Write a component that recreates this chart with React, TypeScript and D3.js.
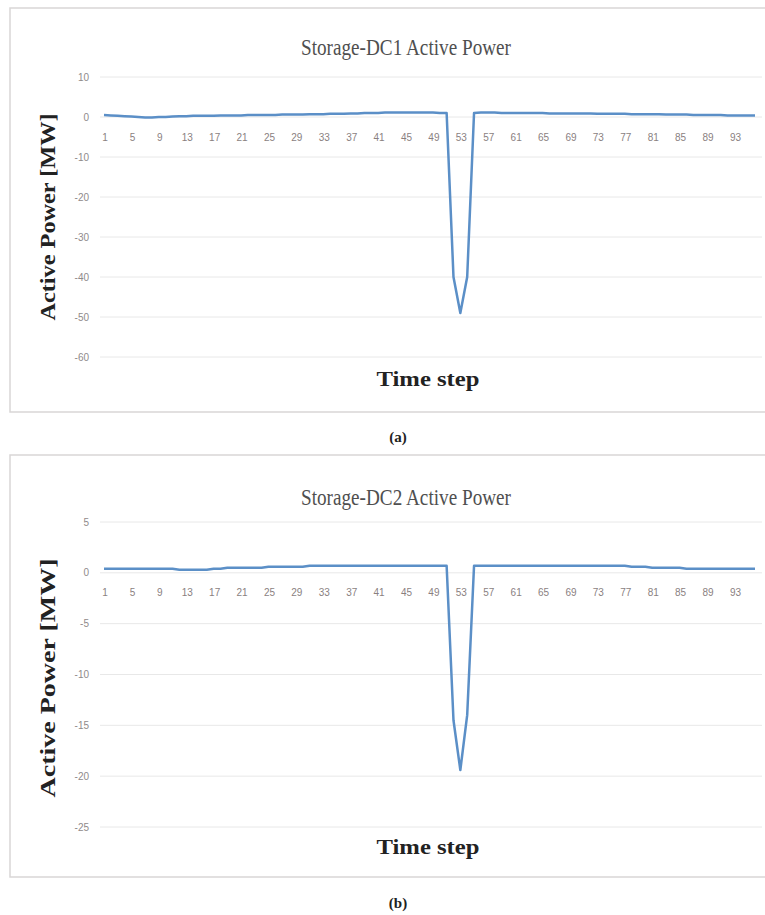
import React from "react";
import * as d3 from "d3";

const steps: number[] = Array.from({ length: 96 }, (_, i) => i + 1);
const labelSteps: number[] = [1, 5, 9, 13, 17, 21, 25, 29, 33, 37, 41, 45, 49, 53, 57, 61, 65, 69, 73, 77, 81, 85, 89, 93];

const dc1Values: number[] = [
  0.5, 0.4, 0.3, 0.2, 0.1, 0.0, -0.1, -0.1, 0.0, 0.0,
  0.1, 0.2, 0.2, 0.3, 0.3, 0.3, 0.3, 0.4, 0.4, 0.4,
  0.4, 0.5, 0.5, 0.5, 0.5, 0.5, 0.6, 0.6, 0.6, 0.6,
  0.7, 0.7, 0.7, 0.8, 0.8, 0.8, 0.9, 0.9, 1.0, 1.0,
  1.0, 1.1, 1.1, 1.1, 1.1, 1.1, 1.1, 1.1, 1.1, 1.0,
  1.0, -40, -49, -40, 1.0, 1.1, 1.1, 1.1, 1.0, 1.0,
  1.0, 1.0, 1.0, 1.0, 1.0, 0.9, 0.9, 0.9, 0.9, 0.9,
  0.9, 0.9, 0.8, 0.8, 0.8, 0.8, 0.8, 0.7, 0.7, 0.7,
  0.7, 0.7, 0.6, 0.6, 0.6, 0.6, 0.5, 0.5, 0.5, 0.5,
  0.5, 0.4, 0.4, 0.4, 0.4, 0.4,
];

const dc2Values: number[] = [
  0.4, 0.4, 0.4, 0.4, 0.4, 0.4, 0.4, 0.4, 0.4, 0.4,
  0.4, 0.3, 0.3, 0.3, 0.3, 0.3, 0.4, 0.4, 0.5, 0.5,
  0.5, 0.5, 0.5, 0.5, 0.6, 0.6, 0.6, 0.6, 0.6, 0.6,
  0.7, 0.7, 0.7, 0.7, 0.7, 0.7, 0.7, 0.7, 0.7, 0.7,
  0.7, 0.7, 0.7, 0.7, 0.7, 0.7, 0.7, 0.7, 0.7, 0.7,
  0.7, -14.5, -19.4, -14, 0.7, 0.7, 0.7, 0.7, 0.7, 0.7,
  0.7, 0.7, 0.7, 0.7, 0.7, 0.7, 0.7, 0.7, 0.7, 0.7,
  0.7, 0.7, 0.7, 0.7, 0.7, 0.7, 0.7, 0.6, 0.6, 0.6,
  0.5, 0.5, 0.5, 0.5, 0.5, 0.4, 0.4, 0.4, 0.4, 0.4,
  0.4, 0.4, 0.4, 0.4, 0.4, 0.4,
];

const dc1Ticks: number[] = [10, 0, -10, -20, -30, -40, -50, -60];
const dc2Ticks: number[] = [5, 0, -5, -10, -15, -20, -25];

const titles: string[] = ["Storage-DC1 Active Power", "Storage-DC2 Active Power"];
const yTitle = "Active Power [MW]";
const xTitle = "Time step";
const captions: string[] = ["(a)", "(b)"];

type PanelProps = {
  top: number;
  height: number;
  values: number[];
  ticks: number[];
  yTop: number;
  yBottom: number;
  title: string;
  titleY: number;
  yLabelCenter: number;
  yLabelLen: number;
  xTitleY: number;
  caption: string;
  captionY: number;
};

function Panel(p: PanelProps) {
  const x = d3.scalePoint<number>().domain(steps).range([104, 755]);
  const yMax = d3.max(p.ticks) as number;
  const yMin = d3.min(p.ticks) as number;
  const y = d3.scaleLinear().domain([yMin, yMax]).range([p.yBottom, p.yTop]);
  const line = d3
    .line<number>()
    .x((_, i) => x(steps[i]) as number)
    .y((d) => y(d));
  const zeroY = y(0);
  return (
    <g>
      <rect x={10} y={p.top} width={800} height={p.height} fill="#ffffff" stroke="#d9d6d6" strokeWidth={1.5} />
      <text x={406} y={p.titleY} textAnchor="middle" fontFamily="'Liberation Serif', serif" fontSize={23} fill="#4f4f4f" textLength={210} lengthAdjust="spacingAndGlyphs">
        {p.title}
      </text>
      {p.ticks.map((t) => (
        <g key={t}>
          <line x1={100} x2={762} y1={y(t)} y2={y(t)} stroke="#e8e8e8" strokeWidth={1} />
          <text x={89} y={y(t)} dy="0.35em" textAnchor="end" fontFamily="'Liberation Sans', Arial, sans-serif" fontSize={10} fill="#8f8a8a">
            {t}
          </text>
        </g>
      ))}
      {labelSteps.map((s) => (
        <text key={s} x={(x(s) as number) + 1} y={zeroY + 20} dy="0.35em" textAnchor="middle" fontFamily="'Liberation Sans', Arial, sans-serif" fontSize={10} fill="#8a7f7f">
          {s}
        </text>
      ))}
      <path d={line(p.values) || ""} fill="none" stroke="#5b8fc7" strokeWidth={2.5} strokeLinejoin="round" />
      <text
        transform={`translate(55,${p.yLabelCenter}) rotate(-90)`}
        textAnchor="middle"
        fontFamily="'Liberation Serif', serif"
        fontWeight="bold"
        fontSize={21}
        fill="#222"
        textLength={p.yLabelLen}
        lengthAdjust="spacingAndGlyphs"
      >
        {yTitle}
      </text>
      <text x={428} y={p.xTitleY} textAnchor="middle" fontFamily="'Liberation Serif', serif" fontWeight="bold" fontSize={22} fill="#222" textLength={103} lengthAdjust="spacingAndGlyphs">
        {xTitle}
      </text>
      <text x={398} y={p.captionY} textAnchor="middle" fontFamily="'Liberation Serif', serif" fontWeight="bold" fontSize={15} fill="#222">
        {p.caption}
      </text>
    </g>
  );
}

export default function App() {
  return (
    <div style={{ position: "absolute", left: 0, top: 0 }}>
      <svg width={765} height={915} style={{ display: "block", background: "#ffffff" }}>
        <Panel
          top={8}
          height={404}
          values={dc1Values}
          ticks={dc1Ticks}
          yTop={77}
          yBottom={357}
          title={titles[0]}
          titleY={55}
          yLabelCenter={217}
          yLabelLen={207}
          xTitleY={386}
          caption={captions[0]}
          captionY={442}
        />
        <Panel
          top={455}
          height={422}
          values={dc2Values}
          ticks={dc2Ticks}
          yTop={522}
          yBottom={827}
          title={titles[1]}
          titleY={505}
          yLabelCenter={678}
          yLabelLen={239}
          xTitleY={854}
          caption={captions[1]}
          captionY={908}
        />
      </svg>
    </div>
  );
}
